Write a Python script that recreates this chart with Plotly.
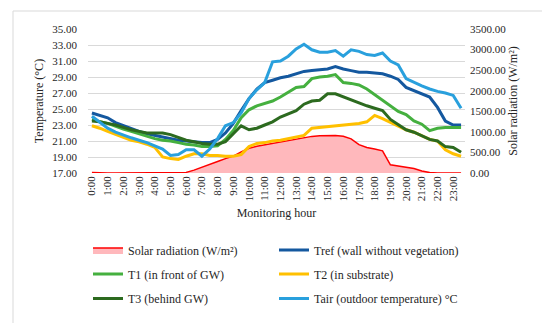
import plotly.graph_objects as go

# ---- data -------------------------------------------------------------
times = ["0:00", "0:30", "1:00", "1:30", "2:00", "2:30", "3:00", "3:30",
         "4:00", "4:30", "5:00", "5:30", "6:00", "6:30", "7:00", "7:30",
         "8:00", "8:30", "9:00", "9:30", "10:00", "10:30", "11:00", "11:30",
         "12:00", "12:30", "13:00", "13:30", "14:00", "14:30", "15:00", "15:30",
         "16:00", "16:30", "17:00", "17:30", "18:00", "18:30", "19:00", "19:30",
         "20:00", "20:30", "21:00", "21:30", "22:00", "22:30", "23:00", "23:30"]

hour_ticks = ["0:00", "1:00", "2:00", "3:00", "4:00", "5:00", "6:00", "7:00",
              "8:00", "9:00", "10:00", "11:00", "12:00", "13:00", "14:00", "15:00",
              "16:00", "17:00", "18:00", "19:00", "20:00", "21:00", "22:00", "23:00"]

solar = [10, 0, 0, 0, 0, 0, 0, 0, 0, 0, 0, 0,
         15, 70, 135, 200, 280, 350, 410, 510, 600, 650, 685, 710,
         750, 780, 830, 860, 890, 905, 910, 910, 895, 830, 690, 620,
         585, 540, 200, 170, 150, 110, 50, 10, 0, 0, 0, 0]

t_ref = [24.5, 24.2, 23.9, 23.3, 22.9, 22.5, 22.2, 21.9, 21.7, 21.5, 21.3, 21.1,
         21.0, 20.9, 20.8, 20.8, 21.2, 22.0, 23.2, 24.8, 26.3, 27.5, 28.3, 28.6,
         28.9, 29.1, 29.4, 29.7, 29.8, 29.9, 30.0, 30.3, 30.0, 29.8, 29.6, 29.6,
         29.5, 29.4, 29.1, 28.7, 27.7, 27.3, 27.0, 26.5, 25.2, 23.5, 23.0, 23.0]

t1 = [23.7, 23.4, 23.2, 22.8, 22.5, 22.2, 21.9, 21.6, 21.3, 21.1, 21.0, 20.8,
      20.6, 20.5, 20.3, 20.3, 20.4, 21.2, 22.3, 23.9, 24.9, 25.4, 25.7, 26.0,
      26.5, 27.1, 27.7, 27.8, 28.8, 29.0, 29.1, 29.3, 28.3, 28.2, 28.0, 27.5,
      26.8, 26.2, 25.4, 24.7, 24.3, 23.5, 23.1, 22.3, 22.6, 22.7, 22.7, 22.7]

t2 = [22.9, 22.6, 22.2, 21.8, 21.4, 21.1, 20.9, 20.6, 20.2, 19.0, 18.8, 18.7,
      19.1, 19.4, 19.4, 19.2, 19.2, 19.1, 19.1, 19.3, 20.3, 20.7, 20.8, 21.0,
      21.1, 21.3, 21.5, 21.7, 22.6, 22.7, 22.8, 22.9, 23.0, 23.1, 23.2, 23.4,
      24.2, 23.8, 23.3, 22.8, 22.4, 22.1, 21.7, 21.2, 21.0, 19.9, 19.4, 19.1]

t3 = [23.5, 23.4, 23.2, 23.0, 22.7, 22.4, 22.2, 22.0, 22.0, 22.0, 21.8, 21.4,
      21.1, 20.9, 20.7, 20.6, 20.6, 20.9, 21.9, 22.9, 22.4, 22.6, 23.0, 23.4,
      24.0, 24.4, 24.8, 25.6, 26.0, 26.1, 26.9, 26.9, 26.5, 26.2, 25.7, 25.4,
      25.1, 24.8, 23.7, 23.0, 22.4, 22.1, 21.7, 21.2, 21.0, 20.3, 20.2, 19.6]

t_air = [24.1, 23.3, 22.6, 22.1, 21.7, 21.4, 21.1, 20.8, 20.4, 20.0, 19.2, 19.3,
         19.9, 19.9, 19.1, 20.0, 21.3, 22.9, 23.3, 24.5, 26.3, 27.4, 28.3, 30.9,
         31.0, 31.6, 32.5, 33.1, 32.4, 32.1, 32.1, 32.3, 31.6, 32.4, 32.2, 31.8,
         31.7, 32.0, 31.0, 30.5, 28.8, 28.3, 27.9, 27.5, 27.2, 27.0, 26.7, 25.1]

temp_ticks = [17, 19, 21, 23, 25, 27, 29, 31, 33, 35]
solar_ticks = [0, 500, 1000, 1500, 2000, 2500, 3000, 3500]

# ---- figure -----------------------------------------------------------
FONT = "Liberation Serif"
TXT = "#262626"

L, R, T, B = 80, 457, 21, 165
W, H = 550, 323
pw, ph = R - L, B - T


def px_x(p):
    return (p - L) / pw


def px_y(p):
    return (B - p) / ph


fig = go.Figure()

fig.add_trace(go.Scatter(
    x=times, y=solar, name="Solar radiation (W/m²)", mode="lines",
    line=dict(color="#FF0000", width=1.5), fill="tozeroy",
    fillcolor="#FFB8BC", yaxis="y", legend="legend", showlegend=True))

series = [
    ("Tref (wall without vegetation)", t_ref, "#14589F", "legend2"),
    ("T1 (in front of GW)", t1, "#45B03F", "legend3"),
    ("T2 (in substrate)", t2, "#FFC000", "legend4"),
    ("T3 (behind GW)", t3, "#2C6A1F", "legend5"),
    ("Tair (outdoor temperature) °C", t_air, "#29A0DD", "legend6"),
]
for name, vals, col, leg in series:
    fig.add_trace(go.Scatter(
        x=times, y=vals, name=name, mode="lines",
        line=dict(color=col, width=3), yaxis="y2", legend=leg))

leg_common = dict(orientation="v", xanchor="left", yanchor="middle",
                  font=dict(family=FONT, size=12, color=TXT),
                  bgcolor="rgba(0,0,0,0)", itemwidth=30, visible=True)

col_x = [80, 266]
row_y = [242, 266, 290.5]
legends = {}
names = ["legend", "legend2", "legend3", "legend4", "legend5", "legend6"]
for k, nm in enumerate(names):
    legends[nm] = dict(x=px_x(col_x[k % 2]), y=px_y(row_y[k // 2]), **leg_common)

fig.update_layout(
    width=W, height=H, showlegend=True,
    margin=dict(l=L, r=W - R, t=T, b=H - B, autoexpand=False),
    paper_bgcolor="white", plot_bgcolor="white",
    font=dict(family=FONT, size=11, color=TXT),
    xaxis=dict(
        type="category", categoryorder="array", categoryarray=times,
        range=[-0.5, len(times) - 0.5],
        tickmode="array", tickvals=hour_ticks, ticktext=hour_ticks,
        tickangle=-90, showgrid=False, zeroline=False, showline=False,
        ticks="", tickfont=dict(family=FONT, size=11, color=TXT),
        title=dict(text="Monitoring hour", standoff=8,
                   font=dict(family=FONT, size=12, color=TXT)),
    ),
    yaxis=dict(
        side="right", range=[0, 3500], tickmode="array", tickvals=solar_ticks,
        tickformat=".2f", showgrid=False, zeroline=False, showline=False,
        ticks="", ticklabelstandoff=4,
        tickfont=dict(family=FONT, size=11, color=TXT),
        title=dict(text="Solar radiation (W/m²)", standoff=3,
                   font=dict(family=FONT, size=12, color=TXT)),
    ),
    yaxis2=dict(
        side="left", overlaying="y", range=[17, 35], tickmode="array",
        tickvals=temp_ticks, tickformat=".2f", showgrid=True,
        gridcolor="#D9D9D9", gridwidth=1, zeroline=False, showline=False,
        ticks="", ticklabelstandoff=10,
        tickfont=dict(family=FONT, size=11, color=TXT),
        title=dict(text="Temperature (°C)", standoff=6,
                   font=dict(family=FONT, size=12, color=TXT)),
    ),
    shapes=[dict(type="rect", xref="paper", yref="paper",
                 x0=px_x(5), x1=px_x(544), y0=px_y(317), y1=px_y(3),
                 line=dict(color="#D9D9D9", width=1), layer="below")],
    **legends,
)

fig.write_html("out.html")
